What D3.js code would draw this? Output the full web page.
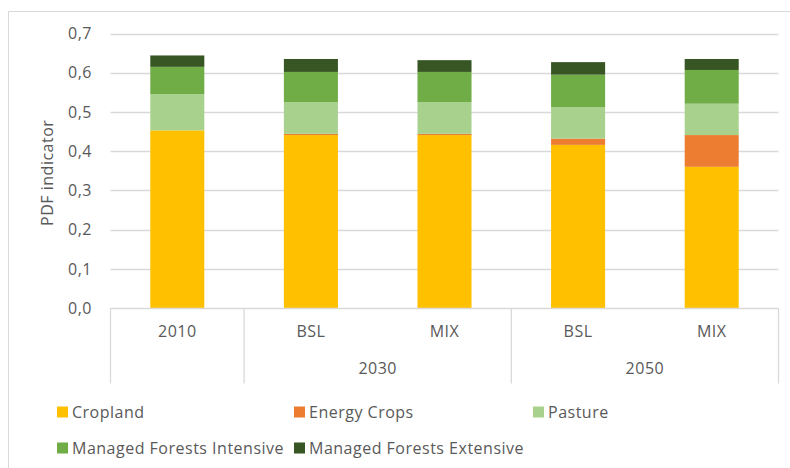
<!DOCTYPE html>
<html><head><meta charset="utf-8">
<script src="https://cdn.jsdelivr.net/npm/d3@7"></script>
<style>body{margin:0;background:#fff}svg{display:block}text{font-family:"Open Sans",sans-serif;fill:#595959;letter-spacing:0.5px}</style>
</head><body><svg id="c" width="790" height="468"></svg>
<script>
const categories = ["2010","BSL","MIX","BSL","MIX"];
const groups = [{label:"",from:0,to:1},{label:"2030",from:1,to:3},{label:"2050",from:3,to:5}];
const seriesNames = ["Cropland","Energy Crops","Pasture","Managed Forests Intensive","Managed Forests Extensive"];
const cropland = [0.453,0.441,0.441,0.416,0.360];
const energyCrops = [0.000,0.003,0.003,0.016,0.081];
const pasture = [0.092,0.081,0.081,0.080,0.080];
const mfIntensive = [0.070,0.077,0.077,0.083,0.086];
const mfExtensive = [0.029,0.033,0.030,0.032,0.028];
const colors = ["#FFC000","#ED7D31","#A9D18E","#70AD47","#375623"];
const yTicks = [0,0.1,0.2,0.3,0.4,0.5,0.6,0.7];

const FS = "16px";
const svg = d3.select("#c");
const L = 110.5, R = 778.5, T = 33.5, B = 308;
// outer chart border
svg.append("path").attr("d","M8.5,468 V11.5 H790").attr("fill","none").attr("stroke","#d9d9d9");

const x = d3.scaleBand().domain(d3.range(categories.length)).range([L,R]).paddingInner(0.5955).paddingOuter(0.29775);
const y = d3.scaleLinear().domain([0,0.7]).range([B,T]);

svg.append("g").selectAll("line").data(yTicks.slice(1)).join("line")
  .attr("x1",L).attr("x2",R).attr("y1",d=>Math.round(y(d))+0.5).attr("y2",d=>Math.round(y(d))+0.5)
  .attr("stroke","#d9d9d9").attr("stroke-width",1.3);

const fmt = d=>d3.format(".1f")(d).replace(".",",");
svg.append("g").selectAll("text").data(yTicks).join("text")
  .attr("x",92).attr("y",d=>y(d)).attr("dy","0.36em").attr("text-anchor","end")
  .style("font-size",FS).text(fmt);

svg.append("text").attr("transform",`translate(53,${(T+B)/2+2}) rotate(-90)`)
  .attr("text-anchor","middle").style("font-size",FS).text("PDF indicator");

const rows = categories.map((c,i)=>({i, v:[cropland[i],energyCrops[i],pasture[i],mfIntensive[i],mfExtensive[i]]}));
const stacked = d3.stack().keys(d3.range(5)).value((d,k)=>d.v[k])(rows);
svg.append("g").selectAll("g").data(stacked).join("g").attr("fill",(d,i)=>colors[i])
  .selectAll("rect").data(d=>d).join("rect")
  .attr("x",d=>x(d.data.i)).attr("width",x.bandwidth())
  .attr("y",d=>y(d[1])).attr("height",d=>y(d[0])-y(d[1]));

// category axis
const ax = svg.append("g").attr("stroke","#d9d9d9").attr("stroke-width",1.3);
ax.append("line").attr("x1",L).attr("x2",R).attr("y1",B+0.5).attr("y2",B+0.5);
const step = x.step();
const bounds = [0,1,3,5];
bounds.forEach(b=>{
  const xx = L + b*step;
  ax.append("line").attr("x1",xx).attr("x2",xx).attr("y1",B).attr("y2",383.5);
});
svg.append("g").selectAll("text").data(categories).join("text")
  .attr("x",(d,i)=>x(i)+x.bandwidth()/2).attr("y",331).attr("dy","0.36em")
  .attr("text-anchor","middle").style("font-size",FS).text(d=>d);
svg.append("g").selectAll("text").data(groups.filter(g=>g.label)).join("text")
  .attr("x",g=>L+(g.from+g.to)/2*step).attr("y",368).attr("dy","0.36em")
  .attr("text-anchor","middle").style("font-size",FS).text(g=>g.label);

// legend
const legPos = [[57,412],[294,412],[533,412],[57,448],[294,448]];
const lg = svg.append("g").selectAll("g").data(seriesNames).join("g")
  .attr("transform",(d,i)=>`translate(${legPos[i][0]},${legPos[i][1]})`);
lg.append("rect").attr("x",0).attr("y",-5.5).attr("width",11).attr("height",11).attr("fill",(d,i)=>colors[i]);
lg.append("text").attr("x",15).attr("y",0).attr("dy","0.36em").style("font-size",FS).text(d=>d);
</script></body></html>
